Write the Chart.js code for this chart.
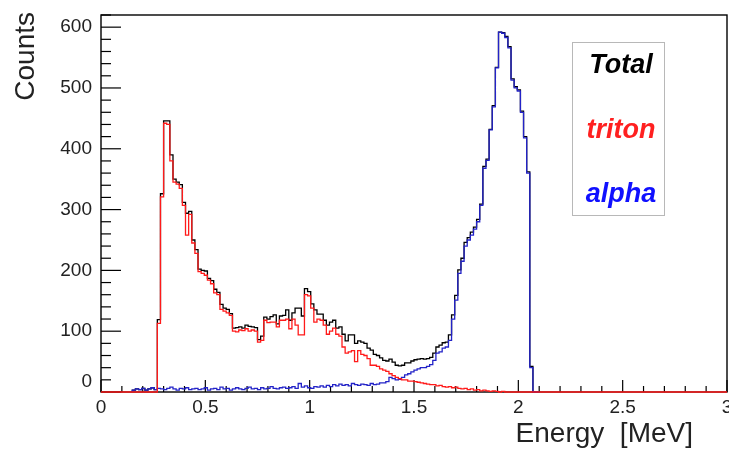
<!DOCTYPE html>
<html>
<head>
<meta charset="utf-8">
<script src="https://cdn.jsdelivr.net/npm/chart.js@4.4.0/dist/chart.umd.min.js"></script>
<style>
  html, body { margin: 0; padding: 0; background: #fff; }
  #wrap { width: 729px; height: 450px; }
</style>
</head>
<body>
<div id="wrap"><canvas id="energyChart" width="729" height="450"></canvas></div>
<script>
// binning of the energy histograms (MeV)
var binStart = 0.15;
var binWidth = 0.015;
var xMin = 0, xMax = 3;
var yMin = 0, yMax = 620;

var xTickLabels = [0, 0.5, 1, 1.5, 2, 2.5, 3];
var yTickLabels = [0, 100, 200, 300, 400, 500, 600];
var xMinorStep = 0.1, yMinorStep = 20;

var seriesNames = ['Total', 'triton', 'alpha'];
var seriesColors = ['#000000', '#ff1a1a', '#2323c8'];
var legendColors = ['#000000', '#ff2020', '#1010ff'];

// counts per bin, starting at binStart
var totalCounts = [
  3, 5, 4, 6, 3, 5, 7, 4, 119, 326,
  446, 446, 390, 350, 345, 341, 312, 294, 297, 250,
  234, 202, 200, 199, 187, 183, 169, 164, 144, 138,
  136, 129, 105, 106, 107, 105, 110, 108, 107, 106,
  86, 92, 123, 120, 124, 127, 112, 125, 126, 135,
  118, 130, 138, 138, 125, 170, 165, 145, 135, 128,
  128, 118, 110, 115, 118, 105, 107, 95, 84, 94,
  94, 80, 84, 82, 80, 72, 69, 62, 60, 56,
  52, 51, 54, 49, 44, 43, 44, 48, 48, 51,
  53, 54, 55, 54, 55, 57, 64, 74, 77, 81,
  82, 94, 127, 159, 201, 220, 246, 254, 263, 271,
  284, 309, 371, 383, 432, 471, 534, 592, 591, 585,
  568, 515, 502, 497, 462, 420, 362, 42, 0, 0
];
var tritonCounts = [
  0, 0, 0, 0, 0, 0, 0, 0, 113, 321,
  442, 440, 380, 345, 342, 335, 307, 258, 292, 245,
  228, 198, 195, 192, 184, 178, 163, 160, 136, 133,
  130, 126, 100, 99, 102, 101, 104, 100, 102, 100,
  82, 85, 118, 114, 115, 115, 107, 118, 118, 120,
  104, 120, 110, 94, 94, 160, 158, 138, 115, 120,
  118, 110, 95, 100, 105, 95, 92, 74, 64, 66,
  68, 50, 68, 62, 60, 55, 44, 44, 42, 38,
  36, 34, 30, 27, 24, 22, 20, 20, 18, 18,
  17, 16, 15, 14, 13, 12, 12, 10, 11, 9,
  8, 9, 7, 8, 6, 5, 6, 4, 5, 3,
  4, 2, 3, 2, 1, 2, 1, 0, 1, 0,
  0, 0, 0, 0, 0, 0, 0, 0, 0, 0
];
var alphaCounts = [
  3, 5, 4, 6, 3, 5, 7, 4, 6, 5,
  4, 6, 8, 5, 3, 6, 5, 7, 4, 5,
  6, 4, 5, 7, 3, 5, 6, 4, 8, 5,
  6, 3, 5, 7, 5, 4, 6, 8, 5, 6,
  4, 7, 5, 6, 9, 6, 5, 7, 8, 6,
  7, 9, 6, 14, 8, 10, 7, 6, 9, 8,
  10, 8, 11, 9, 12, 10, 13, 11, 12, 10,
  14, 12, 11, 13, 12, 11, 14, 12, 13, 15,
  15, 17, 24, 22, 20, 21, 24, 28, 30, 33,
  36, 38, 40, 40, 42, 45, 52, 64, 66, 72,
  74, 85, 120, 151, 195, 215, 240, 250, 258, 268,
  280, 307, 368, 381, 431, 469, 533, 592, 590, 583,
  566, 513, 500, 495, 460, 418, 360, 40, 0, 0
];

// step outline of a histogram, points at the left bin edges
function histPoints(counts, padFrom, padTo) {
  var pts = [];
  if (padFrom !== undefined) pts.push({ x: padFrom, y: 0 });
  pts.push({ x: binStart, y: 0 });
  for (var i = 0; i < counts.length; i++) {
    pts.push({ x: binStart + i * binWidth, y: counts[i] });
  }
  pts.push({ x: binStart + counts.length * binWidth, y: 0 });
  if (padTo !== undefined) pts.push({ x: padTo, y: 0 });
  return pts;
}

function histDataset(label, counts, color, order, padFrom, padTo) {
  return {
    label: label,
    data: histPoints(counts, padFrom, padTo),
    borderColor: color,
    borderWidth: 1.3,
    stepped: true,
    pointRadius: 0,
    fill: false,
    tension: 0,
    clip: 3,
    order: order
  };
}

var FONT = "'Liberation Sans', Arial, Helvetica, sans-serif";

var rootFrame = {
  id: 'rootFrame',
  beforeDatasetsDraw: function(chart) {
    var ctx = chart.ctx, a = chart.chartArea;
    var xs = chart.scales.x, ys = chart.scales.y;
    ctx.save();
    ctx.strokeStyle = '#000';
    ctx.lineWidth = 1.4;
    ctx.strokeRect(a.left, a.top, a.right - a.left, a.bottom - a.top);

    ctx.lineWidth = 1.2;
    // y ticks pointing into the frame
    for (var i = 0; yMin + i * yMinorStep <= yMax; i++) {
      var v = yMin + i * yMinorStep;
      var py = ys.getPixelForValue(v);
      var len = (i % 5 === 0) ? 20 : 10;
      ctx.beginPath(); ctx.moveTo(a.left, py); ctx.lineTo(a.left + len, py); ctx.stroke();
    }
    // x ticks pointing into the frame
    for (var j = 0; xMin + j * xMinorStep <= xMax + 1e-9; j++) {
      var px = xs.getPixelForValue(xMin + j * xMinorStep);
      var l2 = (j % 5 === 0) ? 12 : 6;
      ctx.beginPath(); ctx.moveTo(px, a.bottom); ctx.lineTo(px, a.bottom - l2); ctx.stroke();
    }
    ctx.restore();
  },
  afterDraw: function(chart) {
    var ctx = chart.ctx, a = chart.chartArea;
    var xs = chart.scales.x, ys = chart.scales.y;
    ctx.save();
    ctx.fillStyle = '#222';
    ctx.font = '19px ' + FONT;

    // y tick labels
    ctx.textAlign = 'right';
    ctx.textBaseline = 'middle';
    yTickLabels.forEach(function(v) {
      var py = ys.getPixelForValue(v);
      if (v === 0) py -= 10;
      ctx.fillText(String(v), a.left - 9, py);
    });

    // x tick labels
    ctx.textAlign = 'center';
    ctx.textBaseline = 'top';
    xTickLabels.forEach(function(v) {
      var px = xs.getPixelForValue(v);
      ctx.fillText(String(v), px, a.bottom + 6);
    });

    // axis titles
    ctx.font = '28px ' + FONT;
    ctx.textAlign = 'right';
    ctx.textBaseline = 'alphabetic';
    ctx.fillText('Energy  [MeV]', 693, 442);

    ctx.save();
    ctx.translate(34, 12);
    ctx.rotate(-Math.PI / 2);
    ctx.textAlign = 'right';
    ctx.fillText('Counts', 0, 0);
    ctx.restore();

    // legend box
    ctx.fillStyle = '#fff';
    ctx.fillRect(572, 42, 92, 173);
    ctx.strokeStyle = '#b8b8b8';
    ctx.lineWidth = 1;
    ctx.strokeRect(572.5, 42.5, 92, 173);
    ctx.font = 'italic bold 27px ' + FONT;
    ctx.textAlign = 'center';
    var baselines = [73, 138, 202];
    seriesNames.forEach(function(name, k) {
      ctx.fillStyle = legendColors[k];
      ctx.fillText(name, 621, baselines[k]);
    });
    ctx.restore();
  }
};

var ctx = document.getElementById('energyChart').getContext('2d');
var energyChart = new Chart(ctx, {
  type: 'line',
  data: {
    datasets: [
      histDataset(seriesNames[0], totalCounts, seriesColors[0], 3),
      histDataset(seriesNames[1], tritonCounts, seriesColors[1], 1, xMin, xMax),
      histDataset(seriesNames[2], alphaCounts, seriesColors[2], 2)
    ]
  },
  options: {
    responsive: false,
    animation: false,
    devicePixelRatio: 1,
    layout: { padding: { top: 15, right: 2, left: 0, bottom: 0 } },
    scales: {
      x: {
        type: 'linear', min: xMin, max: xMax,
        grid: { display: false, drawTicks: false },
        border: { display: false },
        ticks: { display: false },
        afterFit: function(s) { s.height = 58; }
      },
      y: {
        type: 'linear', min: yMin, max: yMax,
        grid: { display: false, drawTicks: false },
        border: { display: false },
        ticks: { display: false },
        afterFit: function(s) { s.width = 101; }
      }
    },
    plugins: {
      legend: { display: false },
      tooltip: { enabled: false }
    }
  },
  plugins: [rootFrame]
});
</script>
</body>
</html>
